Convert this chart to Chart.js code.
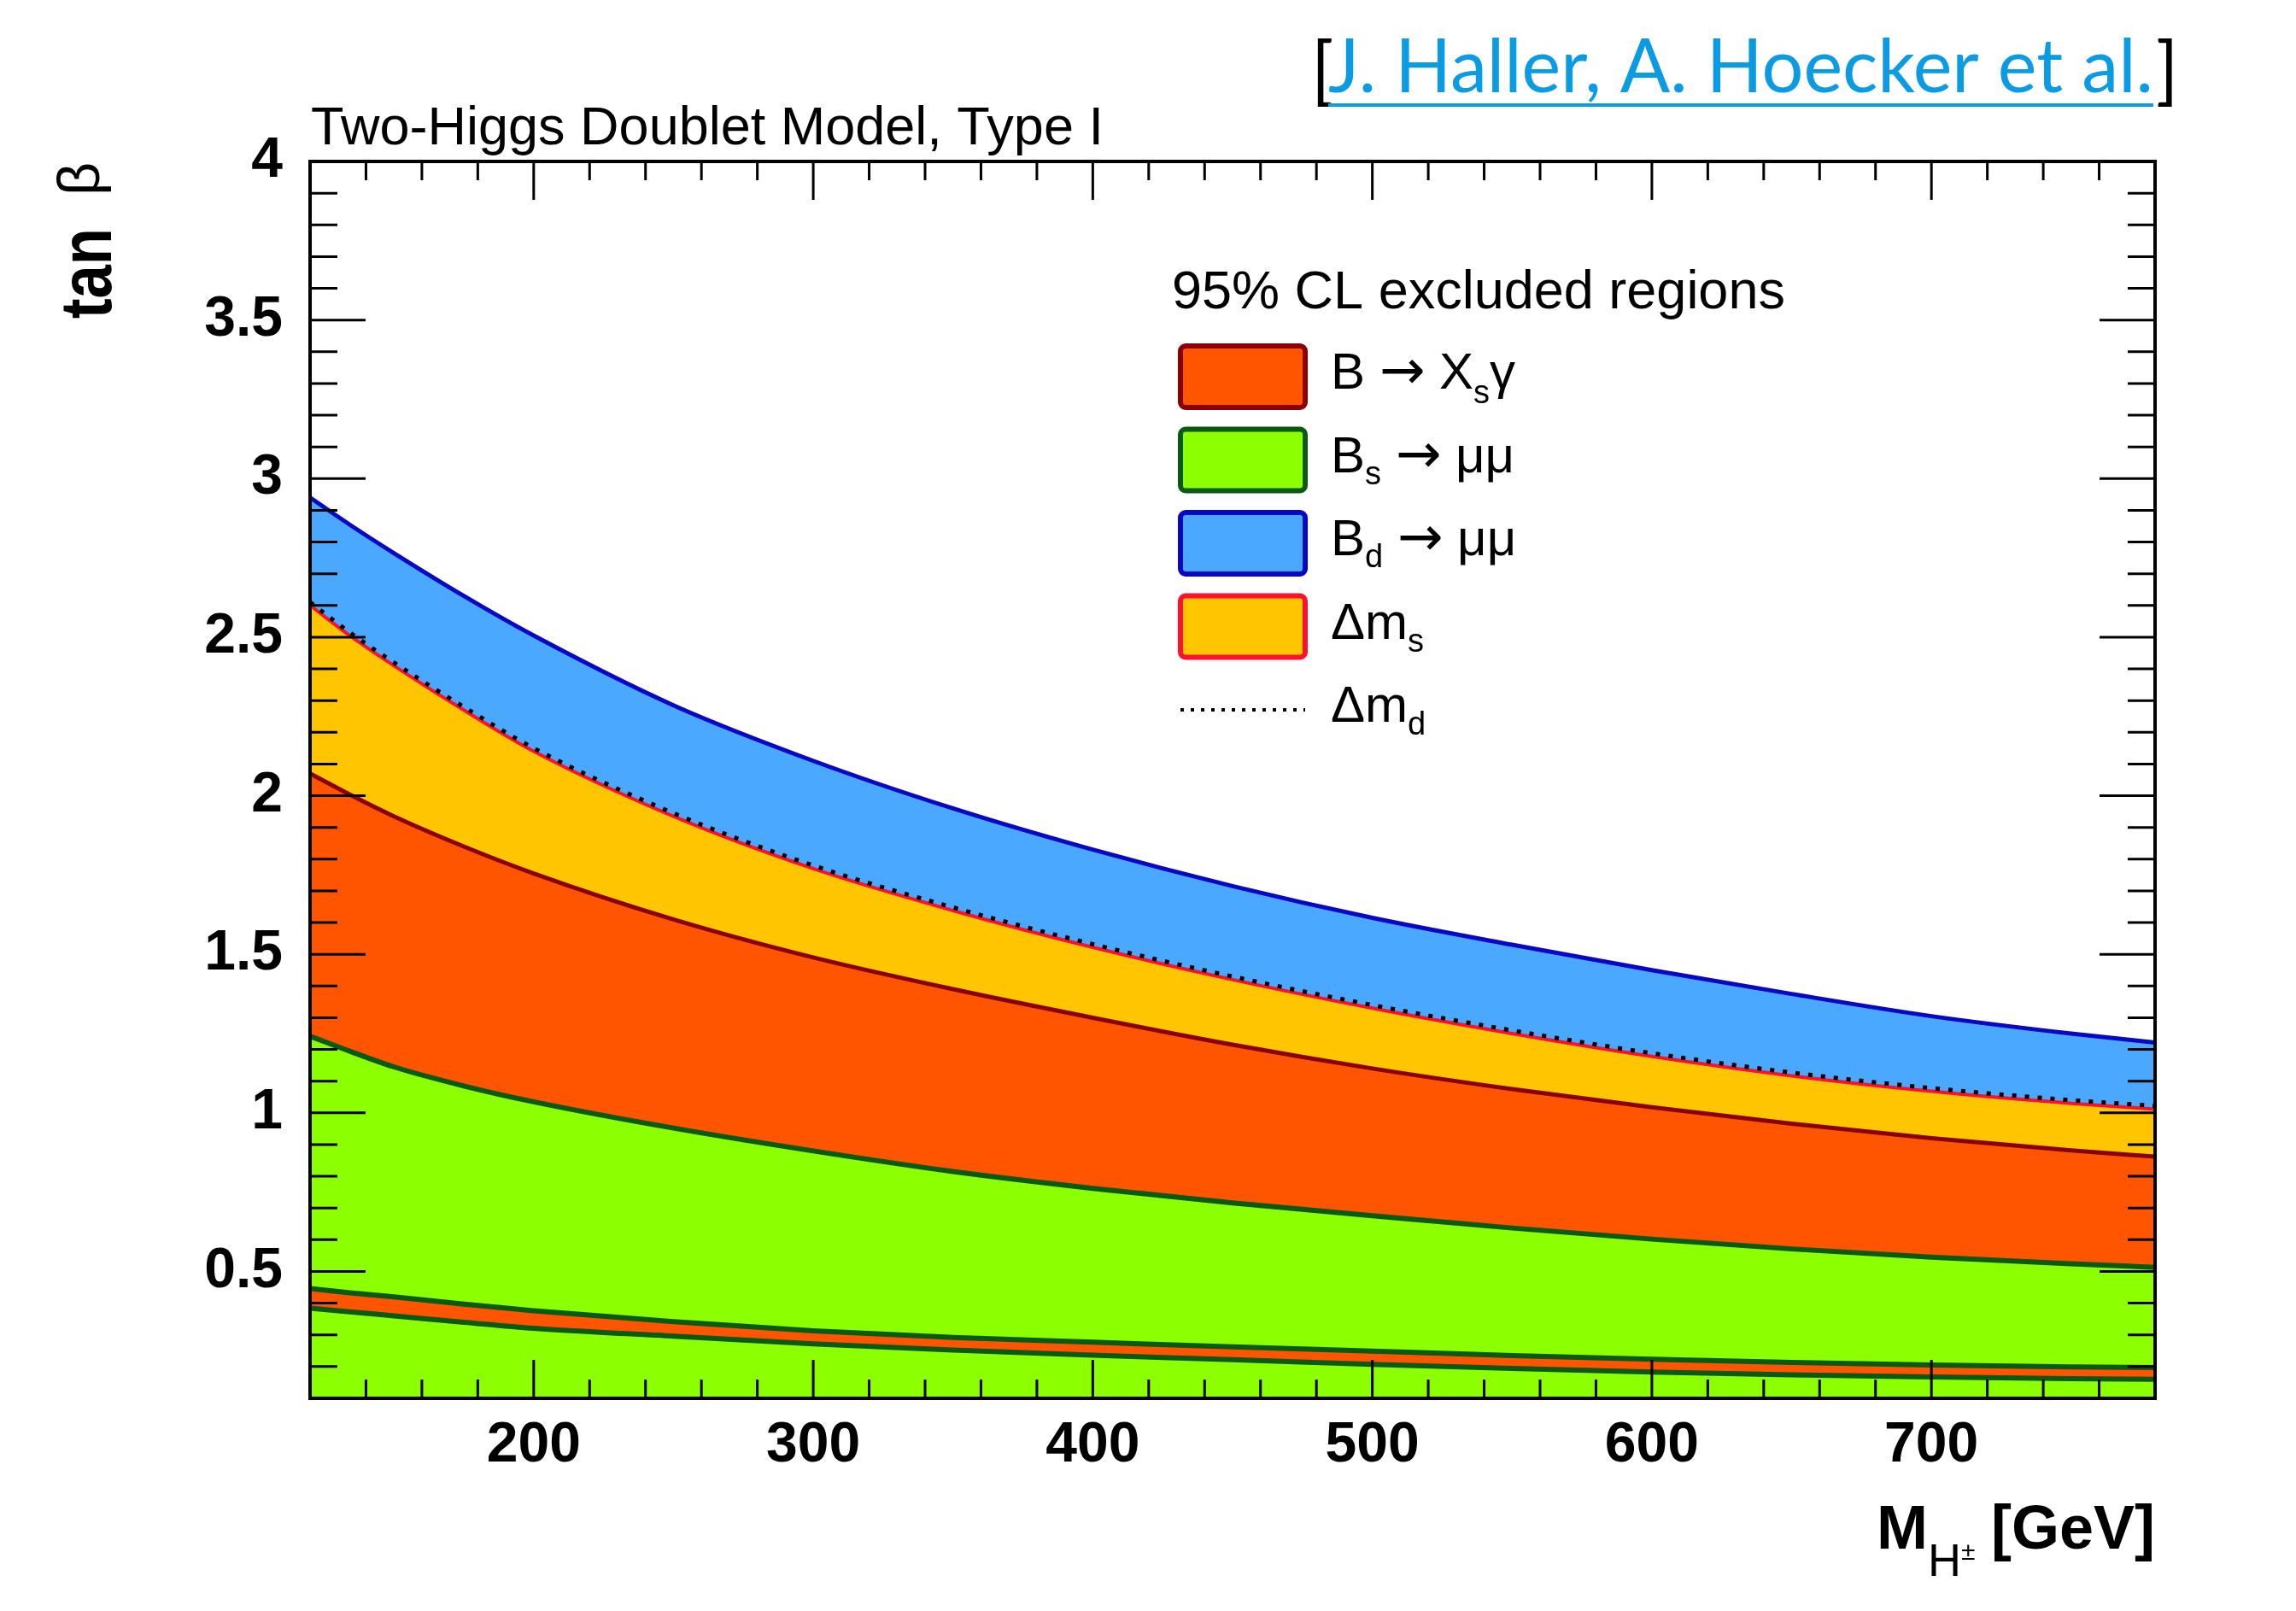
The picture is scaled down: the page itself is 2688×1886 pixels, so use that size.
<!DOCTYPE html>
<html>
<head>
<meta charset="utf-8">
<title>Two-Higgs Doublet Model, Type I</title>
<script src="https://cdn.jsdelivr.net/npm/chart.js@4.4.1/dist/chart.umd.min.js"></script>
<style>
  html, body { margin: 0; padding: 0; background: #fff; }
  canvas { display: block; }
</style>
</head>
<body>
<canvas id="chart" width="2688" height="1886"></canvas>
<script>
// charged Higgs mass grid [GeV]
const massGeV = [120, 135, 150, 175, 200, 250, 300, 350, 400, 450, 500, 550, 600, 650, 700, 750, 780];

// upper edges of the 95% CL excluded tan(beta) regions
const bdMuMu   = [2.94, 2.85, 2.765, 2.63, 2.505, 2.285, 2.11, 1.96, 1.83, 1.715, 1.615, 1.53, 1.45, 1.375, 1.305, 1.25, 1.222];
const deltaMs  = [2.60, 2.50, 2.41, 2.27, 2.14, 1.935, 1.77, 1.638, 1.522, 1.42, 1.33, 1.25, 1.178, 1.117, 1.068, 1.03, 1.012];
const deltaMd  = [2.61, 2.51, 2.42, 2.28, 2.15, 1.945, 1.78, 1.648, 1.532, 1.43, 1.34, 1.26, 1.188, 1.127, 1.078, 1.04, 1.022];
const bXsGamma = [2.07, 2.00, 1.935, 1.84, 1.755, 1.61, 1.49, 1.39, 1.30, 1.215, 1.14, 1.075, 1.018, 0.966, 0.92, 0.882, 0.862];
const bsMuMu   = [1.242, 1.192, 1.145, 1.085, 1.035, 0.952, 0.88, 0.815, 0.762, 0.716, 0.676, 0.637, 0.602, 0.571, 0.545, 0.524, 0.513];
// narrow allowed strip inside the Bs -> mumu region
const bsGapTop    = [0.446, 0.432, 0.42, 0.397, 0.376, 0.342, 0.313, 0.292, 0.277, 0.262, 0.249, 0.235, 0.223, 0.213, 0.205, 0.199, 0.197];
const bsGapBottom = [0.384, 0.372, 0.36, 0.34, 0.321, 0.296, 0.272, 0.252, 0.236, 0.222, 0.207, 0.194, 0.183, 0.174, 0.167, 0.162, 0.160];

// axis labels
const xTicks = [200, 300, 400, 500, 600, 700];
const yTicks = [0.5, 1, 1.5, 2, 2.5, 3, 3.5, 4];

const SANS = '"Liberation Sans", Arial, Helvetica, sans-serif';
const ARROW = '"DejaVu Sans", sans-serif';

function pts(values) {
   return massGeV.map((m, i) => ({ x: m, y: values[i] }));
}

// ROOT style frame: ticks inside on all four sides
const rootFrame = {
   id: 'rootFrame',
   beforeDraw(chart) {
      const ctx = chart.ctx;
      ctx.save();
      ctx.fillStyle = '#fff';
      ctx.fillRect(0, 0, chart.width, chart.height);
      ctx.restore();
   },
   afterDatasetsDraw(chart) {
      const { ctx, chartArea: a } = chart;
      const x = chart.scales.x, y = chart.scales.y;
      ctx.save();
      ctx.strokeStyle = '#000';
      ctx.lineWidth = 3;
      ctx.beginPath();
      for (let m = 140; m < 780; m += 20) {
         const px = x.getPixelForValue(m);
         const len = m % 100 === 0 ? 45 : 22;
         ctx.moveTo(px, a.bottom); ctx.lineTo(px, a.bottom - len);
         ctx.moveTo(px, a.top); ctx.lineTo(px, a.top + len);
      }
      for (let k = 2; k < 40; k++) {
         const py = y.getPixelForValue(k / 10);
         const len = k % 5 === 0 ? 65 : 32;
         ctx.moveTo(a.left, py); ctx.lineTo(a.left + len, py);
         ctx.moveTo(a.right, py); ctx.lineTo(a.right - len, py);
      }
      ctx.stroke();
      ctx.lineWidth = 4;
      ctx.strokeRect(a.left, a.top, a.right - a.left, a.bottom - a.top);
      ctx.restore();
   }
};

// text runs: {t, size, dy, font}
function drawParts(ctx, x, y, parts) {
   for (const p of parts) {
      ctx.font = (p.size || 60) + 'px ' + (p.font || SANS);
      ctx.fillText(p.t, x, y + (p.dy || 0));
      x += ctx.measureText(p.t).width;
   }
   return x;
}

const legendRows = [
   { ds: 3, parts: [{ t: 'B ' }, { t: '\u2192', font: ARROW, size: 64 }, { t: ' X' }, { t: 's', size: 38, dy: 17 }, { t: '\u03b3' }] },
   { ds: 4, parts: [{ t: 'B' }, { t: 's', size: 38, dy: 14 }, { t: ' ' }, { t: '\u2192', font: ARROW, size: 64 }, { t: ' \u03bc\u03bc' }] },
   { ds: 0, parts: [{ t: 'B' }, { t: 'd', size: 38, dy: 14 }, { t: ' ' }, { t: '\u2192', font: ARROW, size: 64 }, { t: ' \u03bc\u03bc' }] },
   { ds: 1, parts: [{ t: '\u0394m' }, { t: 's', size: 38, dy: 15 }] },
   { ds: 2, parts: [{ t: '\u0394m' }, { t: 'd', size: 38, dy: 15 }] }
];

const legendAndLabels = {
   id: 'legendAndLabels',
   afterDraw(chart) {
      const ctx = chart.ctx;
      const a = chart.chartArea;
      ctx.save();
      ctx.fillStyle = '#000';
      ctx.textBaseline = 'alphabetic';
      ctx.textAlign = 'left';

      // legend
      ctx.font = '63px ' + SANS;
      ctx.fillText('95% CL excluded regions', 1372, 361);
      legendRows.forEach((row, i) => {
         const cy = 441 + i * 97.5;
         const ds = chart.data.datasets[row.ds];
         if (ds.fill === false) {
            ctx.strokeStyle = ds.borderColor;
            ctx.lineWidth = 4;
            ctx.setLineDash([4, 8]);
            ctx.beginPath();
            ctx.moveTo(1382, cy); ctx.lineTo(1528, cy);
            ctx.stroke();
            ctx.setLineDash([]);
         } else {
            ctx.fillStyle = ds.backgroundColor;
            ctx.strokeStyle = ds.borderColor;
            ctx.lineWidth = 6;
            ctx.beginPath();
            ctx.roundRect(1382, cy - 36, 146, 72, 6);
            ctx.fill();
            ctx.stroke();
         }
         ctx.fillStyle = '#000';
         drawParts(ctx, 1558, cy + 14, row.parts);
      });

      // top-left label
      ctx.font = '63px ' + SANS;
      ctx.fillText('Two-Higgs Doublet Model, Type I', a.left + 1, 169);

      // y title: tan beta (rotated)
      ctx.save();
      ctx.translate(116, a.top + 1);
      ctx.rotate(-Math.PI / 2);
      ctx.textAlign = 'right';
      ctx.font = '68px ' + SANS;
      ctx.fillText('\u03b2', 0, 0);
      const bw = ctx.measureText('\u03b2').width;
      ctx.translate(-bw - 38, 14);
      ctx.scale(0.82, 1);
      ctx.font = 'bold 86px ' + SANS;
      ctx.fillText('tan', 0, 0);
      ctx.restore();

      // x title: M_{H^+-} [GeV]
      let xx = 2197;
      ctx.font = 'bold 72px ' + SANS;
      ctx.fillText('M', xx, 1813);
      xx += ctx.measureText('M').width;
      ctx.font = '54px ' + SANS;
      ctx.fillText('H', xx, 1845);
      xx += ctx.measureText('H').width;
      ctx.font = '30px ' + SANS;
      ctx.fillText('\u00b1', xx, 1826);
      ctx.font = 'bold 72px ' + SANS;
      ctx.textAlign = 'right';
      ctx.fillText('[GeV]', a.right, 1813);
      ctx.textAlign = 'left';

      // citation
      const cite = 'J. Haller, A. Hoecker et al.';
      const citeFont = 'Lato, "Open Sans", sans-serif';
      ctx.font = '76px ' + citeFont;
      const fs = 76 * 966 / ctx.measureText(cite).width;
      ctx.font = fs + 'px ' + citeFont;
      const cw = ctx.measureText(cite).width;
      ctx.fillStyle = '#000';
      ctx.fillText('[', 1535, 112);
      ctx.fillText(']', 1554 + cw + 4, 112);
      ctx.fillStyle = '#0b9be3';
      ctx.fillText(cite, 1555, 108);
      ctx.fillRect(1555, 121, cw, 4);
      ctx.restore();
   }
};

window.onload = () => {
   const ctx = document.getElementById('chart').getContext('2d');
   new Chart(ctx, {
      type: 'line',
      data: {
         datasets: [
            {
               label: 'Bd -> mumu',
               data: pts(bdMuMu),
               fill: 'start',
               backgroundColor: '#4ba8ff',
               borderColor: '#0808c4',
               borderWidth: 5,
               order: 7
            },
            {
               label: 'Delta m_s',
               data: pts(deltaMs),
               fill: 'start',
               backgroundColor: '#ffc600',
               borderColor: '#ff1030',
               borderWidth: 4,
               order: 6
            },
            {
               label: 'Delta m_d',
               data: pts(deltaMd),
               fill: false,
               borderColor: '#000000',
               borderDash: [5, 10],
               borderWidth: 5,
               order: 5
            },
            {
               label: 'B -> Xs gamma',
               data: pts(bXsGamma),
               fill: 'start',
               backgroundColor: '#ff5500',
               borderColor: '#8a0000',
               borderWidth: 5,
               order: 4
            },
            {
               label: 'Bs -> mumu',
               data: pts(bsMuMu),
               fill: 5,
               backgroundColor: '#8cff00',
               borderColor: '#0b5a12',
               borderWidth: 6,
               order: 3
            },
            {
               label: 'Bs -> mumu gap top',
               data: pts(bsGapTop),
               fill: false,
               borderColor: '#0b5a12',
               borderWidth: 6,
               order: 2
            },
            {
               label: 'Bs -> mumu gap bottom',
               data: pts(bsGapBottom),
               fill: 'start',
               backgroundColor: '#8cff00',
               borderColor: '#0b5a12',
               borderWidth: 6,
               order: 1
            }
         ]
      },
      options: {
         responsive: false,
         animation: false,
         devicePixelRatio: 1,
         elements: {
            point: { radius: 0, hoverRadius: 0 },
            line: { cubicInterpolationMode: 'monotone' }
         },
         layout: { padding: { left: 0, top: 189, right: 165, bottom: 0 } },
         plugins: {
            legend: { display: false },
            tooltip: { enabled: false },
            title: { display: false }
         },
         scales: {
            x: {
               type: 'linear',
               min: 120,
               max: 780,
               grid: { display: false, drawTicks: false },
               border: { display: false },
               afterBuildTicks: (s) => { s.ticks = xTicks.map(v => ({ value: v })); },
               afterFit: (s) => { s.height = 249; },
               ticks: {
                  color: '#000',
                  padding: 16,
                  maxRotation: 0,
                  font: { family: SANS, size: 66, weight: 'bold' },
                  callback: (v) => String(v)
               }
            },
            y: {
               type: 'linear',
               min: 0.1,
               max: 4,
               grid: { display: false, drawTicks: false },
               border: { display: false },
               afterBuildTicks: (s) => { s.ticks = yTicks.map(v => ({ value: v })); },
               afterFit: (s) => { s.width = 363; },
               ticks: {
                  color: '#000',
                  padding: 32,
                  font: { family: SANS, size: 66, weight: 'bold' },
                  callback: (v) => String(+Number(v).toFixed(2))
               }
            }
         }
      },
      plugins: [rootFrame, legendAndLabels]
   });
};
</script>
</body>
</html>
